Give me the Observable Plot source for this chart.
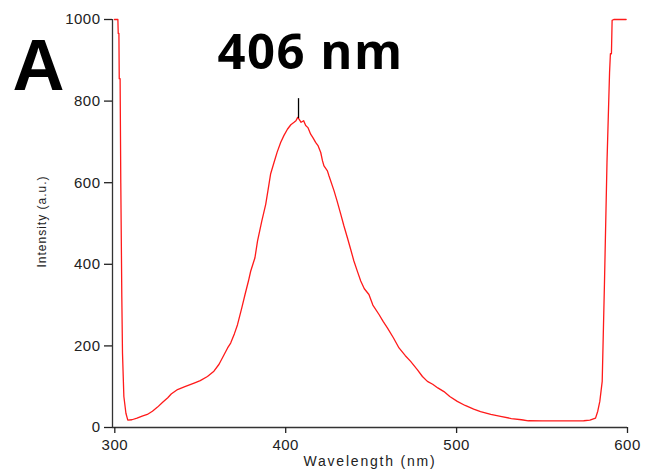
<!DOCTYPE html>
<html><head><meta charset="utf-8">
<script src="https://cdn.jsdelivr.net/npm/d3@7"></script>
<script src="https://cdn.jsdelivr.net/npm/@observablehq/plot@0.6"></script>
<style>body{margin:0;background:#fff} #chart{width:645px;height:475px}</style>
</head><body><div id="chart"></div>
<script>
const wavelength = [299.8,301.8,302.0,302.4,302.6,303.1,303.5,304.1,304.5,305.3,306.5,307.6,310,313,316,319,322,325,328,331,333,336.7,341,346.4,350,354.2,358,361,364,366,367.8,370,371.8,374.3,376.2,378.2,379.5,382,383.5,386,388.3,390.2,391.2,393.2,395,397.1,399,401,403,404.9,406,407,407.6,409,410.5,411.7,413,414.6,416,417.5,419,420.5,421.5,422.4,424.4,425.3,428.3,430,432.2,434,436.1,438,439.9,442,443.9,446,448.7,451,454.6,457,459.5,463,466.3,470,473.1,477,480,482.9,486,489,492.6,496,500.4,505,510,514,520,525.7,532,538,542,550,560,570,574.4,578,581.3,582.6,583.8,585.2,586.5,588,589.5,590,590.6,591,592,599.2];
const intensity = [1000,1000,966,966,855,855,600,320,182,76,35,18,19,23,28,32,40,50,62,73,82,93,100,109,115,125,138,155,179,195,207,230,252,293,326,359,383,416,457,506,547,596,622,650,675,699,716,731,742,748,752,760,757,748,752,740,735,719,710,699,690,674,654,641,629,617,580,556,523,495,465,437,408,382,359,340,326,300,277,260,244,220,195,176,162,142,125,113,106,97,88,76,64,54,45,39,32,27,22,19,16.5,16,16,16,16.5,18,23,40,64,113,350,650,870,916,916,998,1000,1000];
const xTicks = [300, 400, 500, 600];
const yTicks = [0, 200, 400, 600, 800, 1000];
const peakWavelength = [407.5];
const peakIntensity = [757];
const peakMarkerTop = [806];
const peakLabel = ["406 nm"];
const panelLabel = ["A"];
const xLabel = ["Wavelength (nm)"];
const yLabel = ["Intensity (a.u.)"];

const data = wavelength.map((w, i) => ({w, v: intensity[i]}));
const peak = peakWavelength.map((w, i) => ({w, y1: peakIntensity[i], y2: peakMarkerTop[i]}));

const plot = Plot.plot({
  width: 645, height: 475,
  marginLeft: 112, marginRight: 18, marginTop: 19, marginBottom: 48,
  style: {fontFamily: "'Liberation Sans', Arial, sans-serif", fontSize: "15px", background: "#fff", color: "#222"},
  x: {domain: [298.65, 600]},
  y: {domain: [0, 1000]},
  marks: [
    Plot.ruleX([298.65], {stroke: "#333", strokeWidth: 1.3}),
    Plot.ruleY([0], {stroke: "#333", strokeWidth: 1.3}),
    Plot.axisX({ticks: xTicks, tickSize: 6, tickPadding: 6, tickFormat: d => String(d), label: null, color: "#222", strokeWidth: 1.3}),
    Plot.axisY({ticks: yTicks, tickSize: 8, tickPadding: 4, tickFormat: d => String(d), label: null, color: "#222", strokeWidth: 1.3}),
    Plot.line(data, {x: "w", y: "v", stroke: "#ff1a1a", strokeWidth: 1.3}),
    Plot.ruleX(peak, {x: "w", y1: "y1", y2: "y2", stroke: "#000", strokeWidth: 1.3}),
    Plot.text(peakLabel, {text: d => d, frameAnchor: "top-left", dx: 198, dy: 49, textAnchor: "middle", lineAnchor: "bottom", fontSize: 49, fontWeight: "bold", fontFamily: "'Open Sans', sans-serif", fill: "#000"}),
    Plot.text(panelLabel, {text: d => d, frameAnchor: "top-left", dx: -100, dy: 70, textAnchor: "start", lineAnchor: "bottom", fontSize: 72, fontWeight: "bold", fill: "#000"}),
    Plot.text(xLabel, {text: d => d, frameAnchor: "bottom", dy: 38, textAnchor: "middle", fontSize: 14, fill: "#222"}),
    Plot.text(yLabel, {text: d => d, frameAnchor: "left", dx: -70, dy: -2, rotate: -90, textAnchor: "middle", fontSize: 12, fill: "#222"})
  ]
});
document.getElementById("chart").appendChild(plot);
plot.querySelectorAll("text").forEach(t => {
  const s = t.textContent;
  if (s === xLabel[0]) t.setAttribute("letter-spacing", "1.8");
  else if (s === yLabel[0]) t.setAttribute("letter-spacing", "1.0");
  else if (s === peakLabel[0]) t.setAttribute("letter-spacing", "1.5");
  else if (/^\d+$/.test(s)) t.setAttribute("letter-spacing", "0.5");
});
</script></body></html>
